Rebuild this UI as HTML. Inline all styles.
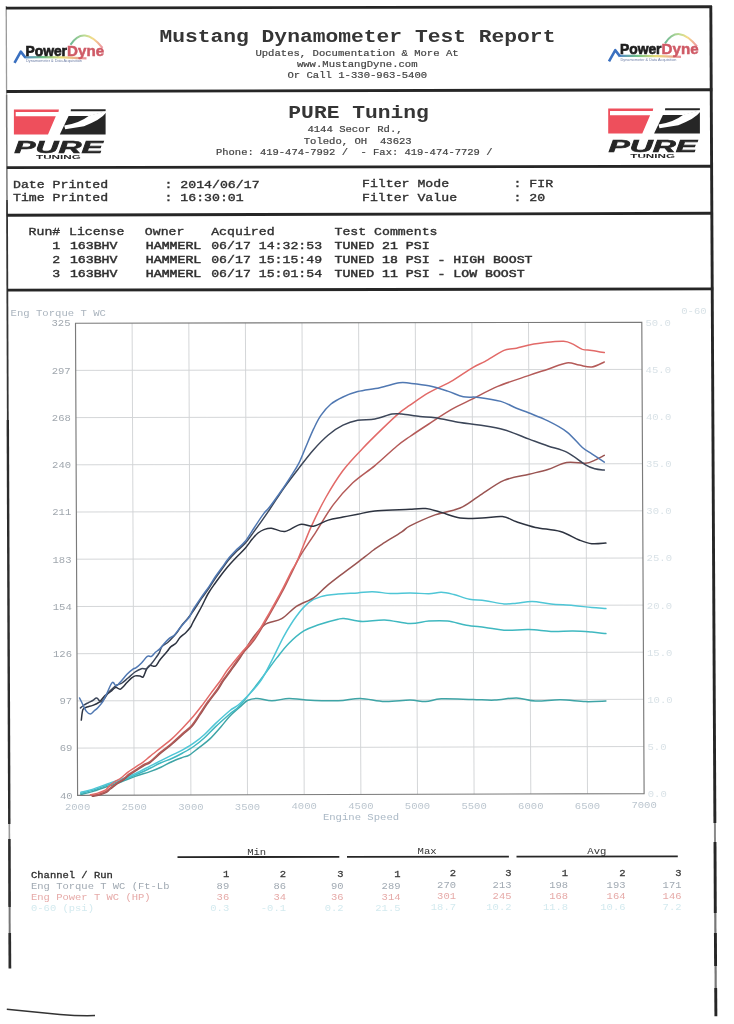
<!DOCTYPE html>
<html><head><meta charset="utf-8"><title>Mustang Dynamometer Test Report</title>
<style>
html,body{margin:0;padding:0;background:#fff;}
body{width:734px;height:1024px;overflow:hidden;position:relative;}
svg{position:absolute;left:0;top:0;display:block;}
</style></head>
<body>
<svg width="734" height="1024" viewBox="0 0 734 1024">
<rect width="734" height="1024" fill="#fff"/>
<line x1="6.2" y1="6.0" x2="6.6" y2="95.0" stroke="#9a9a9a" stroke-width="1.3" />
<line x1="6.6" y1="95.0" x2="7.0" y2="200.0" stroke="#777" stroke-width="1.5" />
<line x1="7.0" y1="200.0" x2="7.8" y2="420.0" stroke="#333" stroke-width="1.8" />
<line x1="7.8" y1="420.0" x2="9.3" y2="824.0" stroke="#2c2c2c" stroke-width="2.4" />
<line x1="9.3" y1="824.0" x2="9.4" y2="839.0" stroke="#9a9a9a" stroke-width="1.6" />
<line x1="9.4" y1="839.0" x2="9.6" y2="907.0" stroke="#2c2c2c" stroke-width="2.6" />
<line x1="9.6" y1="907.0" x2="9.7" y2="933.0" stroke="#777" stroke-width="2.0" />
<line x1="9.7" y1="933.0" x2="9.9" y2="968.5" stroke="#2c2c2c" stroke-width="2.7" />
<line x1="710.8" y1="6.0" x2="714.9" y2="823.0" stroke="#262626" stroke-width="2.9" />
<line x1="714.9" y1="823.0" x2="715.0" y2="842.0" stroke="#8a8a8a" stroke-width="2.0" />
<line x1="715.0" y1="842.0" x2="715.3" y2="913.0" stroke="#262626" stroke-width="2.9" />
<line x1="715.3" y1="913.0" x2="715.4" y2="933.0" stroke="#777" stroke-width="2.2" />
<line x1="715.4" y1="933.0" x2="715.6" y2="966.0" stroke="#262626" stroke-width="2.9" />
<line x1="715.6" y1="966.0" x2="715.7" y2="988.0" stroke="#777" stroke-width="2.2" />
<line x1="715.7" y1="988.0" x2="715.9" y2="1016.3" stroke="#262626" stroke-width="2.9" />
<line x1="6.0" y1="8.1" x2="712.0" y2="6.7" stroke="#262626" stroke-width="2.9" />
<line x1="6.5" y1="91.5" x2="712.3" y2="89.8" stroke="#262626" stroke-width="2.9" />
<line x1="6.8" y1="167.6" x2="712.6" y2="166.2" stroke="#262626" stroke-width="2.9" />
<line x1="7.0" y1="215.2" x2="712.9" y2="213.3" stroke="#262626" stroke-width="2.9" />
<line x1="7.2" y1="290.1" x2="713.2" y2="288.9" stroke="#262626" stroke-width="2.9" />
<text transform="translate(357.4,41.5) scale(1,0.87)" font-size="21.3" fill="#353535" font-weight="bold" text-anchor="middle" font-family="'Liberation Mono', 'Courier New', monospace"  xml:space="preserve">Mustang Dynamometer Test Report</text>
<text transform="translate(357.0,56.0) scale(1,0.93)" font-size="10.6" fill="#444" stroke="#444" stroke-width="0.22" font-weight="normal" text-anchor="middle" font-family="'Liberation Mono', 'Courier New', monospace"  xml:space="preserve">Updates, Documentation &amp; More At</text>
<text transform="translate(357.2,67.2) scale(1,0.93)" font-size="10.6" fill="#444" stroke="#444" stroke-width="0.22" font-weight="normal" text-anchor="middle" font-family="'Liberation Mono', 'Courier New', monospace"  xml:space="preserve">www.MustangDyne.com</text>
<text transform="translate(357.3,78.2) scale(1,0.93)" font-size="10.6" fill="#444" stroke="#444" stroke-width="0.22" font-weight="normal" text-anchor="middle" font-family="'Liberation Mono', 'Courier New', monospace"  xml:space="preserve">Or Call 1-330-963-5400</text>
<text transform="translate(358.6,117.5) scale(1,0.87)" font-size="21.3" fill="#353535" font-weight="bold" text-anchor="middle" font-family="'Liberation Mono', 'Courier New', monospace"  xml:space="preserve">PURE Tuning</text>
<text transform="translate(355.0,132.2) scale(1,0.93)" font-size="10.6" fill="#444" stroke="#444" stroke-width="0.22" font-weight="normal" text-anchor="middle" font-family="'Liberation Mono', 'Courier New', monospace"  xml:space="preserve">4144 Secor Rd.,</text>
<text transform="translate(357.7,143.5) scale(1,0.93)" font-size="10.6" fill="#444" stroke="#444" stroke-width="0.22" font-weight="normal" text-anchor="middle" font-family="'Liberation Mono', 'Courier New', monospace"  xml:space="preserve">Toledo, OH  43623</text>
<text transform="translate(216.0,155.1) scale(1,0.93)" font-size="10.48" fill="#444" stroke="#444" stroke-width="0.22" font-weight="normal" text-anchor="start" font-family="'Liberation Mono', 'Courier New', monospace"  xml:space="preserve">Phone: 419-474-7992 /  - Fax: 419-474-7729 /</text>
<text transform="translate(13.0,187.9) scale(1,0.85)" font-size="13.2" fill="#303030" stroke="#303030" stroke-width="0.42" font-weight="normal" text-anchor="start" font-family="'Liberation Mono', 'Courier New', monospace"  xml:space="preserve">Date Printed</text>
<text transform="translate(13.0,201.3) scale(1,0.85)" font-size="13.2" fill="#303030" stroke="#303030" stroke-width="0.42" font-weight="normal" text-anchor="start" font-family="'Liberation Mono', 'Courier New', monospace"  xml:space="preserve">Time Printed</text>
<text transform="translate(164.5,187.9) scale(1,0.85)" font-size="13.2" fill="#303030" stroke="#303030" stroke-width="0.42" font-weight="normal" text-anchor="start" font-family="'Liberation Mono', 'Courier New', monospace"  xml:space="preserve">: 2014/06/17</text>
<text transform="translate(164.5,201.3) scale(1,0.85)" font-size="13.2" fill="#303030" stroke="#303030" stroke-width="0.42" font-weight="normal" text-anchor="start" font-family="'Liberation Mono', 'Courier New', monospace"  xml:space="preserve">: 16:30:01</text>
<text transform="translate(362.0,187.2) scale(1,0.85)" font-size="13.2" fill="#303030" stroke="#303030" stroke-width="0.42" font-weight="normal" text-anchor="start" font-family="'Liberation Mono', 'Courier New', monospace"  xml:space="preserve">Filter Mode</text>
<text transform="translate(362.0,200.5) scale(1,0.85)" font-size="13.2" fill="#303030" stroke="#303030" stroke-width="0.42" font-weight="normal" text-anchor="start" font-family="'Liberation Mono', 'Courier New', monospace"  xml:space="preserve">Filter Value</text>
<text transform="translate(513.5,187.2) scale(1,0.85)" font-size="13.2" fill="#303030" stroke="#303030" stroke-width="0.42" font-weight="normal" text-anchor="start" font-family="'Liberation Mono', 'Courier New', monospace"  xml:space="preserve">: FIR</text>
<text transform="translate(513.5,200.5) scale(1,0.85)" font-size="13.2" fill="#303030" stroke="#303030" stroke-width="0.42" font-weight="normal" text-anchor="start" font-family="'Liberation Mono', 'Courier New', monospace"  xml:space="preserve">: 20</text>
<text transform="translate(28.6,235.1) scale(1,0.85)" font-size="13.2" fill="#303030" stroke="#303030" stroke-width="0.42" font-weight="normal" text-anchor="start" font-family="'Liberation Mono', 'Courier New', monospace"  xml:space="preserve">Run#</text>
<text transform="translate(69.0,235.1) scale(1,0.85)" font-size="13.2" fill="#303030" stroke="#303030" stroke-width="0.42" font-weight="normal" text-anchor="start" font-family="'Liberation Mono', 'Courier New', monospace"  xml:space="preserve">License</text>
<text transform="translate(144.8,235.1) scale(1,0.85)" font-size="13.2" fill="#303030" stroke="#303030" stroke-width="0.42" font-weight="normal" text-anchor="start" font-family="'Liberation Mono', 'Courier New', monospace"  xml:space="preserve">Owner</text>
<text transform="translate(211.2,235.1) scale(1,0.85)" font-size="13.2" fill="#303030" stroke="#303030" stroke-width="0.42" font-weight="normal" text-anchor="start" font-family="'Liberation Mono', 'Courier New', monospace"  xml:space="preserve">Acquired</text>
<text transform="translate(334.5,235.1) scale(1,0.85)" font-size="13.2" fill="#303030" stroke="#303030" stroke-width="0.42" font-weight="normal" text-anchor="start" font-family="'Liberation Mono', 'Courier New', monospace"  xml:space="preserve">Test Comments</text>
<text transform="translate(60.2,248.8) scale(1,0.85)" font-size="13.2" fill="#303030" stroke="#303030" stroke-width="0.42" font-weight="normal" text-anchor="end" font-family="'Liberation Mono', 'Courier New', monospace"  xml:space="preserve">1</text>
<text transform="translate(69.9,248.8) scale(1,0.85)" font-size="13.2" fill="#303030" stroke="#303030" stroke-width="0.55" font-weight="normal" text-anchor="start" font-family="'Liberation Mono', 'Courier New', monospace"  xml:space="preserve">163BHV</text>
<text transform="translate(145.8,248.8) scale(1,0.85)" font-size="13.2" fill="#303030" stroke="#303030" stroke-width="0.6" font-weight="normal" text-anchor="start" font-family="'Liberation Mono', 'Courier New', monospace"  xml:space="preserve">HAMMERL</text>
<text transform="translate(211.2,248.8) scale(1,0.85)" font-size="13.2" fill="#303030" stroke="#303030" stroke-width="0.42" font-weight="normal" text-anchor="start" font-family="'Liberation Mono', 'Courier New', monospace"  xml:space="preserve">06/17 14:32:53</text>
<text transform="translate(334.5,248.8) scale(1,0.85)" font-size="13.2" fill="#303030" stroke="#303030" stroke-width="0.55" font-weight="normal" text-anchor="start" font-family="'Liberation Mono', 'Courier New', monospace"  xml:space="preserve">TUNED 21 PSI</text>
<text transform="translate(60.2,262.5) scale(1,0.85)" font-size="13.2" fill="#303030" stroke="#303030" stroke-width="0.42" font-weight="normal" text-anchor="end" font-family="'Liberation Mono', 'Courier New', monospace"  xml:space="preserve">2</text>
<text transform="translate(69.9,262.5) scale(1,0.85)" font-size="13.2" fill="#303030" stroke="#303030" stroke-width="0.55" font-weight="normal" text-anchor="start" font-family="'Liberation Mono', 'Courier New', monospace"  xml:space="preserve">163BHV</text>
<text transform="translate(145.8,262.5) scale(1,0.85)" font-size="13.2" fill="#303030" stroke="#303030" stroke-width="0.6" font-weight="normal" text-anchor="start" font-family="'Liberation Mono', 'Courier New', monospace"  xml:space="preserve">HAMMERL</text>
<text transform="translate(211.2,262.5) scale(1,0.85)" font-size="13.2" fill="#303030" stroke="#303030" stroke-width="0.42" font-weight="normal" text-anchor="start" font-family="'Liberation Mono', 'Courier New', monospace"  xml:space="preserve">06/17 15:15:49</text>
<text transform="translate(334.5,262.5) scale(1,0.85)" font-size="13.2" fill="#303030" stroke="#303030" stroke-width="0.55" font-weight="normal" text-anchor="start" font-family="'Liberation Mono', 'Courier New', monospace"  xml:space="preserve">TUNED 18 PSI - HIGH BOOST</text>
<text transform="translate(60.2,276.5) scale(1,0.85)" font-size="13.2" fill="#303030" stroke="#303030" stroke-width="0.42" font-weight="normal" text-anchor="end" font-family="'Liberation Mono', 'Courier New', monospace"  xml:space="preserve">3</text>
<text transform="translate(69.9,276.5) scale(1,0.85)" font-size="13.2" fill="#303030" stroke="#303030" stroke-width="0.55" font-weight="normal" text-anchor="start" font-family="'Liberation Mono', 'Courier New', monospace"  xml:space="preserve">163BHV</text>
<text transform="translate(145.8,276.5) scale(1,0.85)" font-size="13.2" fill="#303030" stroke="#303030" stroke-width="0.6" font-weight="normal" text-anchor="start" font-family="'Liberation Mono', 'Courier New', monospace"  xml:space="preserve">HAMMERL</text>
<text transform="translate(211.2,276.5) scale(1,0.85)" font-size="13.2" fill="#303030" stroke="#303030" stroke-width="0.42" font-weight="normal" text-anchor="start" font-family="'Liberation Mono', 'Courier New', monospace"  xml:space="preserve">06/17 15:01:54</text>
<text transform="translate(334.5,276.5) scale(1,0.85)" font-size="13.2" fill="#303030" stroke="#303030" stroke-width="0.55" font-weight="normal" text-anchor="start" font-family="'Liberation Mono', 'Courier New', monospace"  xml:space="preserve">TUNED 11 PSI - LOW BOOST</text>
<line x1="132.1" y1="323.1" x2="134.2" y2="795.1" stroke="#d2d4d6" stroke-width="0.95" />
<line x1="188.8" y1="323.0" x2="190.9" y2="795.0" stroke="#d2d4d6" stroke-width="0.95" />
<line x1="245.4" y1="322.9" x2="247.5" y2="794.8" stroke="#d2d4d6" stroke-width="0.95" />
<line x1="302.0" y1="322.8" x2="304.2" y2="794.6" stroke="#d2d4d6" stroke-width="0.95" />
<line x1="358.6" y1="322.8" x2="360.9" y2="794.5" stroke="#d2d4d6" stroke-width="0.95" />
<line x1="415.3" y1="322.7" x2="417.5" y2="794.3" stroke="#d2d4d6" stroke-width="0.95" />
<line x1="471.9" y1="322.6" x2="474.1" y2="794.1" stroke="#d2d4d6" stroke-width="0.95" />
<line x1="528.5" y1="322.5" x2="530.8" y2="793.9" stroke="#d2d4d6" stroke-width="0.95" />
<line x1="585.2" y1="322.4" x2="587.5" y2="793.8" stroke="#d2d4d6" stroke-width="0.95" />
<line x1="75.7" y1="370.4" x2="642.0" y2="369.4" stroke="#d2d4d6" stroke-width="0.95" />
<line x1="75.9" y1="417.6" x2="642.3" y2="416.6" stroke="#d2d4d6" stroke-width="0.95" />
<line x1="76.1" y1="464.8" x2="642.5" y2="463.7" stroke="#d2d4d6" stroke-width="0.95" />
<line x1="76.3" y1="512.0" x2="642.7" y2="510.8" stroke="#d2d4d6" stroke-width="0.95" />
<line x1="76.5" y1="559.2" x2="643.0" y2="558.0" stroke="#d2d4d6" stroke-width="0.95" />
<line x1="76.8" y1="606.5" x2="643.2" y2="605.1" stroke="#d2d4d6" stroke-width="0.95" />
<line x1="77.0" y1="653.7" x2="643.4" y2="652.2" stroke="#d2d4d6" stroke-width="0.95" />
<line x1="77.2" y1="700.9" x2="643.6" y2="699.3" stroke="#d2d4d6" stroke-width="0.95" />
<line x1="77.4" y1="748.1" x2="643.9" y2="746.5" stroke="#d2d4d6" stroke-width="0.95" />
<polygon points="75.5,323.2 641.8,322.3 644.1,793.6 77.6,795.3" fill="none" stroke="#7a7a7a" stroke-width="1.15"/>
<text transform="translate(70.5,326.4) scale(1,0.93)" font-size="10.6" fill="#a0a7ae" font-weight="normal" text-anchor="end" font-family="'Liberation Mono', 'Courier New', monospace"  xml:space="preserve">325</text>
<text transform="translate(645.4,325.7) scale(1,0.93)" font-size="10.6" fill="#d9e2e7" font-weight="normal" text-anchor="start" font-family="'Liberation Mono', 'Courier New', monospace"  xml:space="preserve">50.0</text>
<text transform="translate(70.7,373.6) scale(1,0.93)" font-size="10.6" fill="#a0a7ae" font-weight="normal" text-anchor="end" font-family="'Liberation Mono', 'Courier New', monospace"  xml:space="preserve">297</text>
<text transform="translate(645.6,372.8) scale(1,0.93)" font-size="10.6" fill="#d9e2e7" font-weight="normal" text-anchor="start" font-family="'Liberation Mono', 'Courier New', monospace"  xml:space="preserve">45.0</text>
<text transform="translate(70.9,420.8) scale(1,0.93)" font-size="10.6" fill="#a0a7ae" font-weight="normal" text-anchor="end" font-family="'Liberation Mono', 'Courier New', monospace"  xml:space="preserve">268</text>
<text transform="translate(645.9,420.0) scale(1,0.93)" font-size="10.6" fill="#d9e2e7" font-weight="normal" text-anchor="start" font-family="'Liberation Mono', 'Courier New', monospace"  xml:space="preserve">40.0</text>
<text transform="translate(71.1,468.0) scale(1,0.93)" font-size="10.6" fill="#a0a7ae" font-weight="normal" text-anchor="end" font-family="'Liberation Mono', 'Courier New', monospace"  xml:space="preserve">240</text>
<text transform="translate(646.1,467.1) scale(1,0.93)" font-size="10.6" fill="#d9e2e7" font-weight="normal" text-anchor="start" font-family="'Liberation Mono', 'Courier New', monospace"  xml:space="preserve">35.0</text>
<text transform="translate(71.3,515.2) scale(1,0.93)" font-size="10.6" fill="#a0a7ae" font-weight="normal" text-anchor="end" font-family="'Liberation Mono', 'Courier New', monospace"  xml:space="preserve">211</text>
<text transform="translate(646.3,514.2) scale(1,0.93)" font-size="10.6" fill="#d9e2e7" font-weight="normal" text-anchor="start" font-family="'Liberation Mono', 'Courier New', monospace"  xml:space="preserve">30.0</text>
<text transform="translate(71.5,562.5) scale(1,0.93)" font-size="10.6" fill="#a0a7ae" font-weight="normal" text-anchor="end" font-family="'Liberation Mono', 'Courier New', monospace"  xml:space="preserve">183</text>
<text transform="translate(646.6,561.4) scale(1,0.93)" font-size="10.6" fill="#d9e2e7" font-weight="normal" text-anchor="start" font-family="'Liberation Mono', 'Courier New', monospace"  xml:space="preserve">25.0</text>
<text transform="translate(71.8,609.7) scale(1,0.93)" font-size="10.6" fill="#a0a7ae" font-weight="normal" text-anchor="end" font-family="'Liberation Mono', 'Courier New', monospace"  xml:space="preserve">154</text>
<text transform="translate(646.8,608.5) scale(1,0.93)" font-size="10.6" fill="#d9e2e7" font-weight="normal" text-anchor="start" font-family="'Liberation Mono', 'Courier New', monospace"  xml:space="preserve">20.0</text>
<text transform="translate(72.0,656.9) scale(1,0.93)" font-size="10.6" fill="#a0a7ae" font-weight="normal" text-anchor="end" font-family="'Liberation Mono', 'Courier New', monospace"  xml:space="preserve">126</text>
<text transform="translate(647.0,655.6) scale(1,0.93)" font-size="10.6" fill="#d9e2e7" font-weight="normal" text-anchor="start" font-family="'Liberation Mono', 'Courier New', monospace"  xml:space="preserve">15.0</text>
<text transform="translate(72.2,704.1) scale(1,0.93)" font-size="10.6" fill="#a0a7ae" font-weight="normal" text-anchor="end" font-family="'Liberation Mono', 'Courier New', monospace"  xml:space="preserve">97</text>
<text transform="translate(647.2,702.7) scale(1,0.93)" font-size="10.6" fill="#d9e2e7" font-weight="normal" text-anchor="start" font-family="'Liberation Mono', 'Courier New', monospace"  xml:space="preserve">10.0</text>
<text transform="translate(72.4,751.3) scale(1,0.93)" font-size="10.6" fill="#a0a7ae" font-weight="normal" text-anchor="end" font-family="'Liberation Mono', 'Courier New', monospace"  xml:space="preserve">69</text>
<text transform="translate(647.5,749.9) scale(1,0.93)" font-size="10.6" fill="#d9e2e7" font-weight="normal" text-anchor="start" font-family="'Liberation Mono', 'Courier New', monospace"  xml:space="preserve">5.0</text>
<text transform="translate(72.6,798.5) scale(1,0.93)" font-size="10.6" fill="#a0a7ae" font-weight="normal" text-anchor="end" font-family="'Liberation Mono', 'Courier New', monospace"  xml:space="preserve">40</text>
<text transform="translate(647.7,797.0) scale(1,0.93)" font-size="10.6" fill="#d9e2e7" font-weight="normal" text-anchor="start" font-family="'Liberation Mono', 'Courier New', monospace"  xml:space="preserve">0.0</text>
<text transform="translate(77.6,810.0) scale(1,0.93)" font-size="10.6" fill="#bcc6cf" font-weight="normal" text-anchor="middle" font-family="'Liberation Mono', 'Courier New', monospace"  xml:space="preserve">2000</text>
<text transform="translate(134.2,809.8) scale(1,0.93)" font-size="10.6" fill="#bcc6cf" font-weight="normal" text-anchor="middle" font-family="'Liberation Mono', 'Courier New', monospace"  xml:space="preserve">2500</text>
<text transform="translate(190.9,809.7) scale(1,0.93)" font-size="10.6" fill="#bcc6cf" font-weight="normal" text-anchor="middle" font-family="'Liberation Mono', 'Courier New', monospace"  xml:space="preserve">3000</text>
<text transform="translate(247.5,809.5) scale(1,0.93)" font-size="10.6" fill="#bcc6cf" font-weight="normal" text-anchor="middle" font-family="'Liberation Mono', 'Courier New', monospace"  xml:space="preserve">3500</text>
<text transform="translate(304.2,809.3) scale(1,0.93)" font-size="10.6" fill="#bcc6cf" font-weight="normal" text-anchor="middle" font-family="'Liberation Mono', 'Courier New', monospace"  xml:space="preserve">4000</text>
<text transform="translate(360.9,809.2) scale(1,0.93)" font-size="10.6" fill="#bcc6cf" font-weight="normal" text-anchor="middle" font-family="'Liberation Mono', 'Courier New', monospace"  xml:space="preserve">4500</text>
<text transform="translate(417.5,809.0) scale(1,0.93)" font-size="10.6" fill="#bcc6cf" font-weight="normal" text-anchor="middle" font-family="'Liberation Mono', 'Courier New', monospace"  xml:space="preserve">5000</text>
<text transform="translate(474.1,808.8) scale(1,0.93)" font-size="10.6" fill="#bcc6cf" font-weight="normal" text-anchor="middle" font-family="'Liberation Mono', 'Courier New', monospace"  xml:space="preserve">5500</text>
<text transform="translate(530.8,808.6) scale(1,0.93)" font-size="10.6" fill="#bcc6cf" font-weight="normal" text-anchor="middle" font-family="'Liberation Mono', 'Courier New', monospace"  xml:space="preserve">6000</text>
<text transform="translate(587.5,808.5) scale(1,0.93)" font-size="10.6" fill="#bcc6cf" font-weight="normal" text-anchor="middle" font-family="'Liberation Mono', 'Courier New', monospace"  xml:space="preserve">6500</text>
<text transform="translate(644.1,808.3) scale(1,0.93)" font-size="10.6" fill="#bcc6cf" font-weight="normal" text-anchor="middle" font-family="'Liberation Mono', 'Courier New', monospace"  xml:space="preserve">7000</text>
<text transform="translate(361.0,820.3) scale(1,0.93)" font-size="10.6" fill="#aab8c5" font-weight="normal" text-anchor="middle" font-family="'Liberation Mono', 'Courier New', monospace"  xml:space="preserve">Engine Speed</text>
<text transform="translate(10.6,315.6) scale(1,0.93)" font-size="10.6" fill="#aab4be" font-weight="normal" text-anchor="start" font-family="'Liberation Mono', 'Courier New', monospace"  xml:space="preserve">Eng Torque T WC</text>
<text transform="translate(681.2,313.6) scale(1,0.93)" font-size="10.6" fill="#d8e2e7" font-weight="normal" text-anchor="start" font-family="'Liberation Mono', 'Courier New', monospace"  xml:space="preserve">0-60</text>
<g fill="none" stroke-width="1.5" stroke-linejoin="round" stroke-linecap="round">
<path d="M80.9,794.3 C82.8,793.8 88.0,792.9 92.3,791.6 C96.6,790.4 101.8,788.4 106.6,786.8 C111.4,785.2 116.1,783.7 120.9,782.0 C125.7,780.3 130.3,778.1 135.2,776.4 C140.0,774.7 145.7,773.1 150.0,771.6 C154.3,770.1 157.3,768.9 160.9,767.2 C164.5,765.6 168.2,763.3 171.8,761.7 C175.4,760.1 179.8,758.5 182.7,757.4 C185.6,756.3 186.5,756.8 189.2,755.2 C191.9,753.6 195.6,750.3 199.0,747.6 C202.4,744.9 206.3,742.4 209.9,738.9 C213.5,735.4 217.5,730.7 220.8,726.9 C224.2,723.1 226.8,719.3 230.0,716.0 C233.2,712.7 237.1,709.6 240.0,707.0 C242.9,704.4 244.5,701.9 247.4,700.5 C250.3,699.1 253.1,698.4 257.2,698.4 C261.3,698.4 266.6,700.8 271.9,700.8 C277.2,700.8 283.3,698.5 289.0,698.4 C294.7,698.3 298.0,699.6 306.2,700.0 C314.4,700.4 329.1,701.1 338.1,700.8 C347.1,700.5 352.4,698.3 360.2,698.4 C368.0,698.5 376.4,701.2 384.7,701.5 C393.0,701.8 403.2,700.1 410.0,700.1 C416.8,700.1 420.5,701.8 425.7,701.6 C430.9,701.4 433.5,699.1 441.3,698.8 C449.1,698.4 463.8,699.3 472.7,699.5 C481.6,699.7 487.3,700.4 494.6,700.1 C501.9,699.8 509.7,697.8 516.5,697.9 C523.3,698.0 528.1,700.7 535.4,701.0 C542.7,701.3 552.0,699.7 560.4,699.8 C568.8,699.9 577.9,701.4 585.5,701.6 C593.1,701.8 602.5,701.1 605.9,701.0" stroke="#3ea4a6"/>
<path d="M80.9,793.3 C82.8,792.8 88.0,791.7 92.3,790.4 C96.6,789.1 101.8,787.0 106.6,785.4 C111.4,783.8 116.1,782.3 120.9,780.6 C125.7,778.9 130.3,777.0 135.2,775.0 C140.0,773.0 145.7,770.3 150.0,768.3 C154.3,766.3 157.3,764.4 160.9,762.8 C164.5,761.2 168.2,760.1 171.8,758.5 C175.4,756.9 179.1,755.0 182.7,753.0 C186.3,751.0 190.0,749.0 193.6,746.5 C197.2,744.0 200.9,741.1 204.5,737.8 C208.1,734.5 211.2,730.9 215.4,726.9 C219.7,722.9 225.9,717.4 230.0,713.8 C234.1,710.2 235.1,711.0 240.0,705.5 C244.9,700.0 253.5,688.9 259.6,681.0 C265.7,673.1 271.9,664.2 276.8,657.9 C281.7,651.6 284.5,647.7 289.0,643.2 C293.5,638.7 298.9,634.0 303.8,630.9 C308.7,627.8 312.8,626.8 318.5,624.8 C324.2,622.8 333.6,620.2 338.1,619.2 C342.6,618.2 341.3,618.3 345.4,618.7 C349.5,619.1 356.1,621.4 362.6,621.6 C369.2,621.8 376.8,619.6 384.7,619.9 C392.6,620.2 402.6,623.4 410.0,623.6 C417.4,623.8 422.5,621.5 428.8,621.1 C435.1,620.7 441.3,620.4 447.6,621.1 C453.9,621.8 460.1,624.2 466.4,625.2 C472.7,626.2 478.9,626.6 485.2,627.4 C491.5,628.2 496.7,629.8 504.0,630.2 C511.3,630.6 521.3,629.4 529.1,629.6 C536.9,629.8 543.7,631.2 551.0,631.5 C558.3,631.8 566.2,631.0 573.0,631.1 C579.8,631.2 586.3,631.7 591.8,632.1 C597.3,632.5 603.5,633.4 605.9,633.6" stroke="#3fb8c0"/>
<path d="M80.9,792.3 C82.8,791.8 88.0,790.8 92.3,789.4 C96.6,788.0 101.8,785.9 106.6,784.2 C111.4,782.5 116.1,781.1 120.9,779.4 C125.7,777.6 130.3,775.9 135.2,773.7 C140.0,771.5 145.7,768.3 150.0,766.1 C154.3,763.9 157.3,762.5 160.9,760.7 C164.5,758.9 168.2,757.0 171.8,755.2 C175.4,753.4 179.1,751.8 182.7,749.8 C186.3,747.8 190.0,745.8 193.6,743.2 C197.2,740.7 200.9,737.8 204.5,734.5 C208.1,731.2 211.2,727.6 215.4,723.6 C219.7,719.6 225.9,713.9 230.0,710.5 C234.1,707.1 235.1,708.2 240.0,703.5 C244.9,698.8 254.3,689.6 259.6,682.4 C264.9,675.2 267.8,668.1 271.9,660.3 C276.0,652.5 280.0,643.1 284.1,635.8 C288.2,628.4 292.3,621.7 296.4,616.2 C300.5,610.7 304.6,606.0 308.7,602.7 C312.8,599.4 316.0,598.0 320.9,596.6 C325.8,595.2 332.0,594.7 338.1,594.1 C344.2,593.5 352.0,593.3 357.7,592.9 C363.4,592.5 366.7,591.6 372.4,591.7 C378.1,591.8 385.7,593.4 392.0,593.6 C398.3,593.8 403.9,592.9 410.0,592.9 C416.1,592.9 423.6,593.9 428.8,593.8 C434.0,593.7 437.1,592.2 441.3,592.3 C445.5,592.4 449.2,593.4 453.9,594.5 C458.6,595.6 464.3,598.2 469.5,599.2 C474.7,600.2 479.4,599.9 485.2,600.7 C490.9,601.5 498.8,603.5 504.0,603.9 C509.2,604.3 511.8,603.6 516.5,603.2 C521.2,602.8 526.5,601.3 532.2,601.4 C538.0,601.5 544.2,603.2 551.0,603.9 C557.8,604.6 566.2,604.8 573.0,605.4 C579.8,606.0 586.3,607.1 591.8,607.6 C597.3,608.1 603.5,608.4 605.9,608.6" stroke="#4fc6d6"/>
<path d="M92.4,796.3 C93.6,796.1 97.1,795.7 99.4,795.0 C101.7,794.3 104.6,793.3 106.4,792.3 C108.2,791.3 108.7,790.3 110.4,789.0 C112.1,787.7 114.3,785.8 116.4,784.3 C118.5,782.8 120.7,781.8 122.9,780.3 C125.1,778.8 127.1,776.7 129.4,775.0 C131.7,773.3 134.4,771.7 136.9,770.1 C139.4,768.5 142.2,766.6 144.4,765.3 C146.7,764.0 147.6,764.4 150.4,762.3 C153.2,760.2 157.7,755.7 161.3,752.7 C164.9,749.6 168.6,747.1 172.2,744.0 C175.8,740.9 179.8,737.1 183.1,734.2 C186.4,731.3 189.1,729.7 191.8,726.6 C194.5,723.5 196.7,719.7 199.4,715.7 C202.1,711.7 205.1,707.0 208.2,702.6 C211.3,698.2 215.5,693.1 218.0,689.5 C220.5,685.9 221.3,683.8 223.4,680.8 C225.5,677.8 227.6,675.2 230.4,671.3 C233.2,667.4 236.8,662.7 240.4,657.3 C244.1,651.9 248.3,644.2 252.3,638.8 C256.3,633.4 259.6,628.1 264.5,624.8 C269.4,621.4 276.4,621.8 281.7,618.7 C287.0,615.6 291.1,609.9 296.4,606.4 C301.7,602.9 308.7,601.1 313.6,597.8 C318.5,594.5 320.9,590.9 325.8,586.8 C330.7,582.7 337.7,577.4 343.0,573.3 C348.3,569.2 352.6,566.2 357.7,562.3 C362.8,558.4 369.5,553.0 373.6,550.0 C377.7,547.0 377.5,547.1 382.2,544.1 C386.9,541.1 397.2,534.8 401.8,531.8 C406.4,528.8 404.4,528.7 410.0,525.9 C415.6,523.1 426.8,517.9 435.1,514.9 C443.5,511.9 452.8,511.1 460.1,508.0 C467.4,504.9 471.6,500.7 478.9,496.1 C486.2,491.5 495.6,484.0 504.0,480.4 C512.4,476.8 521.8,476.0 529.1,474.2 C536.4,472.4 541.6,471.4 547.9,469.5 C554.2,467.6 560.4,463.7 566.7,462.6 C573.0,461.6 580.8,463.6 585.5,463.2 C590.2,462.8 591.8,461.4 594.9,460.1 C598.0,458.8 602.7,456.2 604.3,455.4" stroke="#9a5452"/>
<path d="M92.0,795.5 C93.2,795.3 96.7,794.9 99.0,794.2 C101.3,793.5 104.2,792.5 106.0,791.5 C107.8,790.5 108.3,789.5 110.0,788.2 C111.7,786.9 113.9,785.0 116.0,783.5 C118.1,782.0 120.3,781.0 122.5,779.5 C124.7,778.0 126.7,775.9 129.0,774.2 C131.3,772.5 134.0,770.9 136.5,769.3 C139.0,767.7 141.8,765.8 144.0,764.5 C146.2,763.2 147.2,763.6 150.0,761.5 C152.8,759.4 157.3,754.9 160.9,751.9 C164.5,748.9 168.2,746.3 171.8,743.2 C175.4,740.1 179.4,736.3 182.7,733.4 C186.0,730.5 188.7,728.9 191.4,725.8 C194.1,722.7 196.3,718.9 199.0,714.9 C201.7,710.9 204.7,706.2 207.8,701.8 C210.9,697.4 215.1,692.3 217.6,688.7 C220.1,685.1 220.9,683.0 223.0,680.0 C225.1,677.0 227.2,674.4 230.0,670.5 C232.8,666.6 235.9,661.7 240.0,656.5 C244.1,651.3 249.8,646.2 254.7,639.3 C259.6,632.3 264.9,622.6 269.4,614.8 C273.9,607.0 278.0,599.7 281.7,592.7 C285.4,585.8 288.4,579.2 291.5,573.1 C294.6,567.0 296.0,562.9 300.1,556.0 C304.2,549.1 310.5,540.3 316.0,531.8 C321.5,523.3 327.1,513.1 333.2,504.9 C339.3,496.7 345.9,489.4 352.8,482.8 C359.8,476.2 367.5,471.7 374.9,465.6 C382.3,459.5 391.1,450.9 397.0,446.0 C402.9,441.1 404.7,440.2 410.0,436.5 C415.3,432.8 422.0,428.4 428.8,424.0 C435.6,419.6 443.4,414.1 450.7,409.9 C458.0,405.7 464.9,402.8 472.7,398.9 C480.5,395.0 488.3,390.3 497.7,386.4 C507.1,382.5 520.7,378.3 529.1,375.4 C537.5,372.5 541.6,371.3 547.9,369.2 C554.2,367.1 561.5,363.6 566.7,362.9 C571.9,362.2 575.0,364.4 579.2,365.1 C583.4,365.8 587.6,367.5 591.8,367.0 C596.0,366.5 602.2,362.8 604.3,362.0" stroke="#b45a58"/>
<path d="M90.4,794.8 C91.5,794.6 94.7,794.1 97.1,793.4 C99.5,792.7 102.8,791.6 104.7,790.5 C106.6,789.4 106.9,788.3 108.5,786.9 C110.1,785.5 112.1,783.5 114.2,782.0 C116.3,780.5 118.7,779.6 120.9,778.0 C123.1,776.4 125.2,774.2 127.6,772.4 C130.0,770.6 132.7,769.0 135.2,767.3 C137.7,765.6 140.3,764.1 142.8,762.3 C145.3,760.5 147.0,758.8 150.0,756.3 C153.0,753.8 157.3,750.5 160.9,747.6 C164.5,744.7 168.2,742.2 171.8,738.9 C175.4,735.6 179.1,731.8 182.7,728.0 C186.3,724.2 190.3,719.8 193.6,716.0 C196.9,712.2 199.4,708.9 202.3,705.1 C205.2,701.3 207.9,697.3 211.0,693.1 C214.1,688.9 218.1,683.9 220.8,680.0 C223.5,676.1 224.2,674.3 227.4,670.0 C230.6,665.7 235.4,659.9 240.0,654.4 C244.6,648.9 249.8,644.2 254.7,637.3 C259.6,630.4 264.9,620.6 269.4,612.8 C273.9,605.0 278.0,597.7 281.7,590.7 C285.4,583.8 288.9,576.2 291.5,571.1 C294.1,566.0 294.3,567.4 297.6,560.0 C300.9,552.6 306.4,537.3 311.1,526.9 C315.8,516.5 320.5,506.9 325.8,497.5 C331.1,488.1 336.9,478.7 343.0,470.5 C349.1,462.3 356.1,455.4 362.6,448.5 C369.1,441.6 376.1,434.8 382.2,428.9 C388.3,423.0 394.8,416.8 399.4,412.9 C404.0,408.9 405.1,408.6 410.0,405.2 C414.9,401.8 422.0,396.6 428.8,392.7 C435.6,388.8 443.4,385.9 450.7,381.7 C458.0,377.5 466.9,371.0 472.7,367.6 C478.4,364.2 480.0,364.2 485.2,361.3 C490.4,358.4 498.8,352.6 504.0,350.4 C509.2,348.2 512.3,349.1 516.5,348.2 C520.7,347.3 524.4,345.9 529.1,345.0 C533.8,344.1 539.0,343.1 544.8,342.5 C550.5,341.9 558.9,341.0 563.6,341.3 C568.3,341.6 569.9,342.8 573.0,344.1 C576.1,345.5 579.3,348.3 582.4,349.4 C585.5,350.4 588.1,349.9 591.8,350.4 C595.4,350.9 602.2,352.2 604.3,352.6" stroke="#e26a68"/>
<path d="M81.3,720.1 C81.6,718.3 82.0,711.7 82.9,709.5 C83.9,707.3 85.4,707.7 87.0,707.0 C88.6,706.3 90.7,706.2 92.7,705.4 C94.8,704.6 97.2,703.7 99.3,702.1 C101.3,700.5 103.1,697.4 105.0,695.6 C106.9,693.8 108.9,692.9 110.7,691.5 C112.5,690.1 114.0,687.8 115.6,687.4 C117.2,687.0 118.6,689.9 120.5,689.1 C122.4,688.3 125.2,684.3 127.0,682.5 C128.8,680.7 129.7,679.5 131.1,678.4 C132.5,677.3 133.7,676.3 135.2,675.9 C136.7,675.5 138.6,675.8 139.9,676.0 C141.2,676.2 142.1,678.0 143.2,676.9 C144.3,675.8 145.3,671.4 146.4,669.5 C147.5,667.6 148.2,665.9 149.7,665.4 C151.2,664.9 153.8,667.0 155.4,666.2 C157.0,665.4 158.1,662.3 159.5,660.5 C160.9,658.7 162.2,657.2 163.6,655.6 C165.0,654.0 166.5,652.2 167.7,650.7 C168.9,649.2 169.6,647.8 171.0,646.6 C172.4,645.4 174.4,644.8 175.9,643.3 C177.4,641.8 178.4,639.4 180.0,637.6 C181.6,635.8 183.9,634.5 185.7,632.7 C187.5,630.9 189.3,628.8 190.6,627.0 C191.8,625.2 191.4,625.1 193.2,621.8 C195.0,618.5 198.9,611.6 201.4,607.0 C203.9,602.4 205.7,597.8 207.9,594.0 C210.1,590.2 212.2,587.3 214.4,584.2 C216.6,581.1 218.8,578.1 221.0,575.2 C223.2,572.3 225.1,569.9 227.5,567.0 C229.9,564.1 232.8,561.1 235.7,558.0 C238.6,554.9 242.2,551.7 245.0,548.5 C247.8,545.3 250.3,541.4 252.5,538.8 C254.7,536.2 256.1,534.5 258.0,533.0 C259.9,531.5 261.6,530.4 263.9,529.6 C266.1,528.8 268.0,527.9 271.5,528.2 C275.0,528.5 280.1,532.1 284.9,531.5 C289.7,530.9 295.4,525.3 300.2,524.4 C305.0,523.5 308.9,526.9 313.6,526.2 C318.3,525.5 323.4,521.6 328.3,520.1 C333.2,518.6 338.1,518.1 343.0,517.1 C347.9,516.1 352.4,515.2 357.7,514.2 C363.0,513.2 367.9,511.7 374.9,511.0 C381.8,510.3 393.5,510.1 399.4,509.8 C405.2,509.5 405.6,509.5 410.0,509.3 C414.4,509.1 420.5,508.1 425.7,508.6 C430.9,509.1 435.6,510.8 441.3,512.4 C447.0,514.0 453.3,517.1 460.1,518.0 C466.9,518.9 475.1,518.2 482.1,518.0 C489.2,517.8 496.7,515.9 502.4,516.5 C508.1,517.1 511.0,520.0 516.5,521.8 C522.0,523.6 528.1,525.8 535.4,527.4 C542.7,529.0 553.1,529.4 560.4,531.5 C567.7,533.6 574.0,538.0 579.2,540.0 C584.4,542.0 587.3,543.2 591.8,543.7 C596.2,544.2 603.5,543.2 605.9,543.1" stroke="#2d3340"/>
<path d="M80.5,707.9 C81.1,707.4 82.8,705.8 84.0,705.0 C85.2,704.2 86.3,703.8 87.8,703.0 C89.2,702.2 91.2,701.3 92.7,700.5 C94.2,699.7 95.4,697.8 96.8,698.1 C98.2,698.4 99.7,702.0 100.9,702.1 C102.1,702.2 102.8,700.5 104.0,699.0 C105.2,697.5 106.7,694.7 108.0,693.0 C109.3,691.3 110.5,690.3 112.0,689.0 C113.5,687.7 115.3,686.0 117.0,685.0 C118.7,684.0 120.2,684.2 122.0,683.0 C123.8,681.8 125.8,679.8 128.0,678.0 C130.2,676.2 132.8,673.5 135.0,672.0 C137.2,670.5 139.6,669.2 141.5,668.7 C143.4,668.2 144.8,669.5 146.4,668.7 C148.1,667.9 149.8,665.7 151.4,663.8 C153.1,661.9 155.0,659.1 156.3,657.2 C157.7,655.3 158.6,654.1 159.5,652.3 C160.4,650.5 160.6,648.2 162.0,646.6 C163.4,645.0 165.9,644.0 167.7,642.5 C169.5,641.0 171.0,639.4 172.6,637.6 C174.2,635.8 175.9,634.1 177.5,631.9 C179.1,629.7 180.6,626.8 182.4,624.5 C184.2,622.2 186.3,620.2 188.1,618.0 C189.9,615.8 191.0,614.2 193.2,611.0 C195.4,607.8 198.7,602.7 201.4,598.7 C204.1,594.8 207.2,590.7 209.5,587.3 C211.8,583.9 213.2,581.3 215.3,578.3 C217.4,575.3 219.6,572.3 221.8,569.3 C224.0,566.3 226.0,563.2 228.3,560.3 C230.6,557.4 232.9,554.9 235.7,552.1 C238.5,549.3 241.8,547.2 245.0,543.6 C248.2,540.0 250.6,536.2 254.7,530.6 C258.8,525.0 264.5,517.0 269.4,509.8 C274.3,502.6 279.2,494.6 284.1,487.7 C289.0,480.8 294.0,474.4 298.9,468.1 C303.8,461.8 308.7,455.2 313.6,449.7 C318.5,444.2 323.4,439.1 328.3,435.0 C333.2,430.9 338.1,427.6 343.0,425.2 C347.9,422.8 352.4,421.3 357.7,420.3 C363.0,419.3 369.2,420.0 374.9,419.0 C380.6,418.0 387.5,414.9 392.0,414.1 C396.5,413.3 397.1,413.7 401.8,414.1 C406.5,414.5 414.4,416.0 420.0,416.6 C425.6,417.2 428.4,416.7 435.1,417.7 C441.8,418.7 452.8,421.2 460.1,422.4 C467.4,423.6 471.6,423.8 478.9,425.0 C486.2,426.2 495.6,427.3 504.0,429.7 C512.4,432.1 521.8,436.4 529.1,439.1 C536.4,441.8 541.6,443.8 547.9,446.0 C554.2,448.2 560.4,449.1 566.7,452.2 C573.0,455.3 580.8,462.0 585.5,464.8 C590.2,467.6 591.8,467.9 594.9,468.8 C598.0,469.7 602.7,469.9 604.3,470.1" stroke="#3c4659"/>
<path d="M79.6,698.0 C80.2,699.2 81.9,702.8 83.0,705.0 C84.1,707.2 85.0,709.6 86.2,711.1 C87.4,712.6 89.0,714.0 90.3,714.0 C91.6,714.0 92.8,712.0 94.0,711.0 C95.2,710.0 96.2,709.4 97.6,707.9 C99.0,706.4 101.3,703.9 102.5,702.1 C103.7,700.3 104.2,698.8 105.0,697.2 C105.8,695.6 106.2,694.8 107.4,692.3 C108.6,689.8 110.8,683.6 112.3,682.5 C113.8,681.4 114.9,686.1 116.4,685.8 C117.9,685.5 119.5,682.8 121.3,680.9 C123.1,679.0 125.0,676.3 127.0,674.3 C129.1,672.2 132.2,669.6 133.6,668.6 C135.0,667.6 134.2,669.1 135.5,668.2 C136.8,667.3 139.5,665.0 141.5,663.0 C143.5,661.0 145.7,657.5 147.3,656.4 C149.0,655.3 150.1,657.1 151.4,656.4 C152.8,655.7 154.1,653.5 155.4,652.3 C156.8,651.1 158.1,650.5 159.5,649.1 C160.9,647.8 162.0,646.0 163.6,644.2 C165.2,642.4 167.5,639.9 169.3,638.4 C171.1,636.9 172.4,637.0 174.2,635.2 C176.0,633.4 178.1,630.1 180.0,627.8 C181.9,625.5 184.0,623.3 185.7,621.3 C187.4,619.3 188.8,618.0 190.0,616.0 C191.2,614.0 191.3,612.6 193.2,609.5 C195.1,606.4 198.7,601.2 201.4,597.2 C204.1,593.2 207.2,589.2 209.5,585.8 C211.8,582.4 213.2,579.8 215.3,576.8 C217.4,573.8 219.6,570.8 221.8,567.8 C224.0,564.8 226.0,561.7 228.3,558.8 C230.6,555.9 232.9,553.5 235.7,550.6 C238.5,547.7 241.8,545.5 245.0,541.6 C248.2,537.7 251.5,531.7 254.7,527.0 C257.8,522.3 261.4,516.7 263.9,513.4 C266.3,510.1 266.4,511.2 269.4,507.3 C272.4,503.4 278.0,495.5 281.7,490.2 C285.4,484.9 288.6,479.9 291.5,475.4 C294.4,470.9 296.4,468.1 298.9,463.2 C301.3,458.3 303.8,451.7 306.2,446.0 C308.6,440.3 311.2,434.0 313.6,428.9 C316.1,423.8 318.0,419.5 320.9,415.4 C323.8,411.3 327.0,407.4 330.7,404.3 C334.4,401.2 338.5,399.1 343.0,397.0 C347.5,394.9 351.6,393.2 357.7,391.6 C363.8,390.1 372.9,389.2 379.8,387.7 C386.8,386.2 394.4,383.5 399.4,382.8 C404.4,382.1 405.1,382.8 410.0,383.3 C414.9,383.8 422.5,384.5 428.8,385.8 C435.1,387.1 441.9,389.3 447.6,391.1 C453.4,392.9 458.1,395.6 463.3,396.7 C468.5,397.8 472.6,396.6 478.9,397.4 C485.2,398.2 494.6,399.6 500.9,401.4 C507.2,403.2 511.8,406.4 516.5,408.3 C521.2,410.2 523.9,410.9 529.1,413.0 C534.3,415.1 541.6,417.8 547.9,420.9 C554.2,424.0 561.0,427.4 566.7,431.8 C572.5,436.2 578.2,443.8 582.4,447.5 C586.6,451.2 588.1,451.4 591.8,453.8 C595.4,456.2 602.2,460.8 604.3,462.2" stroke="#5078b2"/>
</g>
<text transform="translate(256.7,854.6) scale(1,0.93)" font-size="10.6" fill="#333" font-weight="normal" text-anchor="middle" font-family="'Liberation Mono', 'Courier New', monospace"  xml:space="preserve">Min</text>
<text transform="translate(427.1,854.1) scale(1,0.93)" font-size="10.6" fill="#333" font-weight="normal" text-anchor="middle" font-family="'Liberation Mono', 'Courier New', monospace"  xml:space="preserve">Max</text>
<text transform="translate(596.9,853.6) scale(1,0.93)" font-size="10.6" fill="#333" font-weight="normal" text-anchor="middle" font-family="'Liberation Mono', 'Courier New', monospace"  xml:space="preserve">Avg</text>
<line x1="177.5" y1="857.1" x2="339.3" y2="856.9" stroke="#262626" stroke-width="1.8" />
<line x1="347.0" y1="856.9" x2="508.9" y2="856.7" stroke="#262626" stroke-width="1.8" />
<line x1="516.5" y1="856.7" x2="677.8" y2="856.4" stroke="#262626" stroke-width="1.8" />
<text transform="translate(31.0,877.8) scale(1,0.93)" font-size="10.5" fill="#2a2a2a" stroke="#2a2a2a" stroke-width="0.3" font-weight="normal" text-anchor="start" font-family="'Liberation Mono', 'Courier New', monospace"  xml:space="preserve">Channel / Run</text>
<text transform="translate(31.0,889.2) scale(1,0.93)" font-size="10.5" fill="#a0a9b2" font-weight="normal" text-anchor="start" font-family="'Liberation Mono', 'Courier New', monospace"  xml:space="preserve">Eng Torque T WC (Ft-Lb</text>
<text transform="translate(31.0,900.2) scale(1,0.93)" font-size="10.5" fill="#e6aaa8" font-weight="normal" text-anchor="start" font-family="'Liberation Mono', 'Courier New', monospace"  xml:space="preserve">Eng Power T WC (HP)</text>
<text transform="translate(31.0,911.2) scale(1,0.93)" font-size="10.5" fill="#d3eaef" font-weight="normal" text-anchor="start" font-family="'Liberation Mono', 'Courier New', monospace"  xml:space="preserve">0-60 (psi)</text>
<text transform="translate(229.2,876.9) scale(1,0.93)" font-size="10.5" fill="#3a3a3a" stroke="#3a3a3a" stroke-width="0.3" font-weight="normal" text-anchor="end" font-family="'Liberation Mono', 'Courier New', monospace"  xml:space="preserve">1</text>
<text transform="translate(286.0,876.8) scale(1,0.93)" font-size="10.5" fill="#3a3a3a" stroke="#3a3a3a" stroke-width="0.3" font-weight="normal" text-anchor="end" font-family="'Liberation Mono', 'Courier New', monospace"  xml:space="preserve">2</text>
<text transform="translate(343.6,876.7) scale(1,0.93)" font-size="10.5" fill="#3a3a3a" stroke="#3a3a3a" stroke-width="0.3" font-weight="normal" text-anchor="end" font-family="'Liberation Mono', 'Courier New', monospace"  xml:space="preserve">3</text>
<text transform="translate(400.5,876.6) scale(1,0.93)" font-size="10.5" fill="#3a3a3a" stroke="#3a3a3a" stroke-width="0.3" font-weight="normal" text-anchor="end" font-family="'Liberation Mono', 'Courier New', monospace"  xml:space="preserve">1</text>
<text transform="translate(456.0,876.4) scale(1,0.93)" font-size="10.5" fill="#3a3a3a" stroke="#3a3a3a" stroke-width="0.3" font-weight="normal" text-anchor="end" font-family="'Liberation Mono', 'Courier New', monospace"  xml:space="preserve">2</text>
<text transform="translate(511.5,876.3) scale(1,0.93)" font-size="10.5" fill="#3a3a3a" stroke="#3a3a3a" stroke-width="0.3" font-weight="normal" text-anchor="end" font-family="'Liberation Mono', 'Courier New', monospace"  xml:space="preserve">3</text>
<text transform="translate(568.1,876.2) scale(1,0.93)" font-size="10.5" fill="#3a3a3a" stroke="#3a3a3a" stroke-width="0.3" font-weight="normal" text-anchor="end" font-family="'Liberation Mono', 'Courier New', monospace"  xml:space="preserve">1</text>
<text transform="translate(625.5,876.1) scale(1,0.93)" font-size="10.5" fill="#3a3a3a" stroke="#3a3a3a" stroke-width="0.3" font-weight="normal" text-anchor="end" font-family="'Liberation Mono', 'Courier New', monospace"  xml:space="preserve">2</text>
<text transform="translate(681.5,876.0) scale(1,0.93)" font-size="10.5" fill="#3a3a3a" stroke="#3a3a3a" stroke-width="0.3" font-weight="normal" text-anchor="end" font-family="'Liberation Mono', 'Courier New', monospace"  xml:space="preserve">3</text>
<text transform="translate(229.2,888.8) scale(1,0.93)" font-size="10.5" fill="#a0a9b2" font-weight="normal" text-anchor="end" font-family="'Liberation Mono', 'Courier New', monospace"  xml:space="preserve">89</text>
<text transform="translate(286.0,888.7) scale(1,0.93)" font-size="10.5" fill="#a0a9b2" font-weight="normal" text-anchor="end" font-family="'Liberation Mono', 'Courier New', monospace"  xml:space="preserve">86</text>
<text transform="translate(343.6,888.6) scale(1,0.93)" font-size="10.5" fill="#a0a9b2" font-weight="normal" text-anchor="end" font-family="'Liberation Mono', 'Courier New', monospace"  xml:space="preserve">90</text>
<text transform="translate(400.5,888.5) scale(1,0.93)" font-size="10.5" fill="#a0a9b2" font-weight="normal" text-anchor="end" font-family="'Liberation Mono', 'Courier New', monospace"  xml:space="preserve">289</text>
<text transform="translate(456.0,888.3) scale(1,0.93)" font-size="10.5" fill="#a0a9b2" font-weight="normal" text-anchor="end" font-family="'Liberation Mono', 'Courier New', monospace"  xml:space="preserve">270</text>
<text transform="translate(511.5,888.2) scale(1,0.93)" font-size="10.5" fill="#a0a9b2" font-weight="normal" text-anchor="end" font-family="'Liberation Mono', 'Courier New', monospace"  xml:space="preserve">213</text>
<text transform="translate(568.1,888.1) scale(1,0.93)" font-size="10.5" fill="#a0a9b2" font-weight="normal" text-anchor="end" font-family="'Liberation Mono', 'Courier New', monospace"  xml:space="preserve">198</text>
<text transform="translate(625.5,888.0) scale(1,0.93)" font-size="10.5" fill="#a0a9b2" font-weight="normal" text-anchor="end" font-family="'Liberation Mono', 'Courier New', monospace"  xml:space="preserve">193</text>
<text transform="translate(681.5,887.9) scale(1,0.93)" font-size="10.5" fill="#a0a9b2" font-weight="normal" text-anchor="end" font-family="'Liberation Mono', 'Courier New', monospace"  xml:space="preserve">171</text>
<text transform="translate(229.2,899.8) scale(1,0.93)" font-size="10.5" fill="#e6aaa8" font-weight="normal" text-anchor="end" font-family="'Liberation Mono', 'Courier New', monospace"  xml:space="preserve">36</text>
<text transform="translate(286.0,899.7) scale(1,0.93)" font-size="10.5" fill="#e6aaa8" font-weight="normal" text-anchor="end" font-family="'Liberation Mono', 'Courier New', monospace"  xml:space="preserve">34</text>
<text transform="translate(343.6,899.6) scale(1,0.93)" font-size="10.5" fill="#e6aaa8" font-weight="normal" text-anchor="end" font-family="'Liberation Mono', 'Courier New', monospace"  xml:space="preserve">36</text>
<text transform="translate(400.5,899.5) scale(1,0.93)" font-size="10.5" fill="#e6aaa8" font-weight="normal" text-anchor="end" font-family="'Liberation Mono', 'Courier New', monospace"  xml:space="preserve">314</text>
<text transform="translate(456.0,899.3) scale(1,0.93)" font-size="10.5" fill="#e6aaa8" font-weight="normal" text-anchor="end" font-family="'Liberation Mono', 'Courier New', monospace"  xml:space="preserve">301</text>
<text transform="translate(511.5,899.2) scale(1,0.93)" font-size="10.5" fill="#e6aaa8" font-weight="normal" text-anchor="end" font-family="'Liberation Mono', 'Courier New', monospace"  xml:space="preserve">245</text>
<text transform="translate(568.1,899.1) scale(1,0.93)" font-size="10.5" fill="#e6aaa8" font-weight="normal" text-anchor="end" font-family="'Liberation Mono', 'Courier New', monospace"  xml:space="preserve">168</text>
<text transform="translate(625.5,899.0) scale(1,0.93)" font-size="10.5" fill="#e6aaa8" font-weight="normal" text-anchor="end" font-family="'Liberation Mono', 'Courier New', monospace"  xml:space="preserve">164</text>
<text transform="translate(681.5,898.9) scale(1,0.93)" font-size="10.5" fill="#e6aaa8" font-weight="normal" text-anchor="end" font-family="'Liberation Mono', 'Courier New', monospace"  xml:space="preserve">146</text>
<text transform="translate(229.2,910.8) scale(1,0.93)" font-size="10.5" fill="#d3eaef" font-weight="normal" text-anchor="end" font-family="'Liberation Mono', 'Courier New', monospace"  xml:space="preserve">0.3</text>
<text transform="translate(286.0,910.7) scale(1,0.93)" font-size="10.5" fill="#d3eaef" font-weight="normal" text-anchor="end" font-family="'Liberation Mono', 'Courier New', monospace"  xml:space="preserve">-0.1</text>
<text transform="translate(343.6,910.6) scale(1,0.93)" font-size="10.5" fill="#d3eaef" font-weight="normal" text-anchor="end" font-family="'Liberation Mono', 'Courier New', monospace"  xml:space="preserve">0.2</text>
<text transform="translate(400.5,910.5) scale(1,0.93)" font-size="10.5" fill="#d3eaef" font-weight="normal" text-anchor="end" font-family="'Liberation Mono', 'Courier New', monospace"  xml:space="preserve">21.5</text>
<text transform="translate(456.0,910.3) scale(1,0.93)" font-size="10.5" fill="#d3eaef" font-weight="normal" text-anchor="end" font-family="'Liberation Mono', 'Courier New', monospace"  xml:space="preserve">18.7</text>
<text transform="translate(511.5,910.2) scale(1,0.93)" font-size="10.5" fill="#d3eaef" font-weight="normal" text-anchor="end" font-family="'Liberation Mono', 'Courier New', monospace"  xml:space="preserve">10.2</text>
<text transform="translate(568.1,910.1) scale(1,0.93)" font-size="10.5" fill="#d3eaef" font-weight="normal" text-anchor="end" font-family="'Liberation Mono', 'Courier New', monospace"  xml:space="preserve">11.8</text>
<text transform="translate(625.5,910.0) scale(1,0.93)" font-size="10.5" fill="#d3eaef" font-weight="normal" text-anchor="end" font-family="'Liberation Mono', 'Courier New', monospace"  xml:space="preserve">10.6</text>
<text transform="translate(681.5,909.9) scale(1,0.93)" font-size="10.5" fill="#d3eaef" font-weight="normal" text-anchor="end" font-family="'Liberation Mono', 'Courier New', monospace"  xml:space="preserve">7.2</text>
<path d="M6.8,1009.3 Q40,1012.6 60,1014.4 T95,1015.6" fill="none" stroke="#333" stroke-width="1.5"/>

<g transform="translate(14.5,62.8)">
  <defs>
    <linearGradient id="rba" x1="0" y1="0" x2="1" y2="0">
      <stop offset="0" stop-color="#3a78c0"/><stop offset="0.3" stop-color="#58b870"/>
      <stop offset="0.6" stop-color="#e8d860"/><stop offset="1" stop-color="#e87a8a"/>
    </linearGradient>
    <linearGradient id="arca" x1="0" y1="0" x2="1" y2="0">
      <stop offset="0" stop-color="#3aa070"/><stop offset="0.45" stop-color="#a8d070"/>
      <stop offset="0.7" stop-color="#f0d060"/><stop offset="1" stop-color="#e87080"/>
    </linearGradient>
  </defs>
  <path d="M0,0 L6.3,-11.2 L11,-5" fill="none" stroke="#3a70c0" stroke-width="2.6" stroke-linejoin="round"/>
  <path d="M10.5,-5.5 Q40,-6 72,-4.5" fill="none" stroke="url(#rba)" stroke-width="2.2" opacity="0.85"/>
  <path d="M56,-18 Q69,-38 88,-15" fill="none" stroke="url(#arca)" stroke-width="2.0" opacity="0.75"/>
  <text x="11" y="-7.2" font-family="'Liberation Sans', Arial, sans-serif" font-weight="bold" font-size="14.5" fill="#1e1e1e" stroke="#1e1e1e" stroke-width="0.7" textLength="41.5" lengthAdjust="spacingAndGlyphs">Power</text>
  <text x="52.6" y="-7.2" font-family="'Liberation Sans', Arial, sans-serif" font-weight="bold" font-size="14.5" fill="#cf5a66" stroke="#cf5a66" stroke-width="0.5" textLength="37" lengthAdjust="spacingAndGlyphs">Dyne</text>
  <text x="11.5" y="-0.6" font-family="'Liberation Sans', Arial, sans-serif" font-size="3.2" fill="#7080a8" textLength="56" lengthAdjust="spacingAndGlyphs">Dynamometer &amp; Data Acquisition</text>
</g>
<g transform="translate(609.0,61.4)">
  <defs>
    <linearGradient id="rbb" x1="0" y1="0" x2="1" y2="0">
      <stop offset="0" stop-color="#3a78c0"/><stop offset="0.3" stop-color="#58b870"/>
      <stop offset="0.6" stop-color="#e8d860"/><stop offset="1" stop-color="#e87a8a"/>
    </linearGradient>
    <linearGradient id="arcb" x1="0" y1="0" x2="1" y2="0">
      <stop offset="0" stop-color="#3aa070"/><stop offset="0.45" stop-color="#a8d070"/>
      <stop offset="0.7" stop-color="#f0d060"/><stop offset="1" stop-color="#e87080"/>
    </linearGradient>
  </defs>
  <path d="M0,0 L6.3,-11.2 L11,-5" fill="none" stroke="#3a70c0" stroke-width="2.6" stroke-linejoin="round"/>
  <path d="M10.5,-5.5 Q40,-6 72,-4.5" fill="none" stroke="url(#rbb)" stroke-width="2.2" opacity="0.85"/>
  <path d="M56,-18 Q69,-38 88,-15" fill="none" stroke="url(#arcb)" stroke-width="2.0" opacity="0.75"/>
  <text x="11" y="-7.2" font-family="'Liberation Sans', Arial, sans-serif" font-weight="bold" font-size="14.5" fill="#1e1e1e" stroke="#1e1e1e" stroke-width="0.7" textLength="41.5" lengthAdjust="spacingAndGlyphs">Power</text>
  <text x="52.6" y="-7.2" font-family="'Liberation Sans', Arial, sans-serif" font-weight="bold" font-size="14.5" fill="#cf5a66" stroke="#cf5a66" stroke-width="0.5" textLength="37" lengthAdjust="spacingAndGlyphs">Dyne</text>
  <text x="11.5" y="-0.6" font-family="'Liberation Sans', Arial, sans-serif" font-size="3.2" fill="#7080a8" textLength="56" lengthAdjust="spacingAndGlyphs">Dynamometer &amp; Data Acquisition</text>
</g>
<g transform="translate(0,0)">
  <path d="M13.9,109.6 L58.9,109.6 L58.5,111.9 L15.7,111.9 L15.7,116.3 L55.8,116.3 L48,134.4 L13.9,134.4 Z" fill="#ee4f5c"/>
  <path d="M70.9,109.2 L105.6,109.2 L105.6,111.3 L70.7,111.3 Z" fill="#262626"/>
  <path d="M68.6,116 L89.2,116 L105.6,111.6 L105.6,134.4 L59.8,134.4 Z" fill="#262626"/>
  <path d="M64.2,125.6 Q79,123.6 89.4,115.6 L106.2,110.9 L106.2,112.6 Q101,119.8 84,126.2 L65.2,129.3 Z" fill="#fff"/>
  <text transform="translate(14.2,152.5) scale(1.0,1)" font-family="'Liberation Sans', Arial, sans-serif" font-weight="bold" font-style="italic" font-size="17.2" fill="#262626" stroke="#262626" stroke-width="0.6" textLength="88.5" lengthAdjust="spacingAndGlyphs">PURE</text>
  <text x="36" y="158.6" font-family="'Liberation Sans', Arial, sans-serif" font-weight="bold" font-size="5.8" fill="#262626" textLength="44.8" lengthAdjust="spacingAndGlyphs">TUNING</text>
</g>
<g transform="translate(594.3,-1.0)">
  <path d="M13.9,109.6 L58.9,109.6 L58.5,111.9 L15.7,111.9 L15.7,116.3 L55.8,116.3 L48,134.4 L13.9,134.4 Z" fill="#ee4f5c"/>
  <path d="M70.9,109.2 L105.6,109.2 L105.6,111.3 L70.7,111.3 Z" fill="#262626"/>
  <path d="M68.6,116 L89.2,116 L105.6,111.6 L105.6,134.4 L59.8,134.4 Z" fill="#262626"/>
  <path d="M64.2,125.6 Q79,123.6 89.4,115.6 L106.2,110.9 L106.2,112.6 Q101,119.8 84,126.2 L65.2,129.3 Z" fill="#fff"/>
  <text transform="translate(14.2,152.5) scale(1.0,1)" font-family="'Liberation Sans', Arial, sans-serif" font-weight="bold" font-style="italic" font-size="17.2" fill="#262626" stroke="#262626" stroke-width="0.6" textLength="88.5" lengthAdjust="spacingAndGlyphs">PURE</text>
  <text x="36" y="158.6" font-family="'Liberation Sans', Arial, sans-serif" font-weight="bold" font-size="5.8" fill="#262626" textLength="44.8" lengthAdjust="spacingAndGlyphs">TUNING</text>
</g>
</svg>
</body></html>
